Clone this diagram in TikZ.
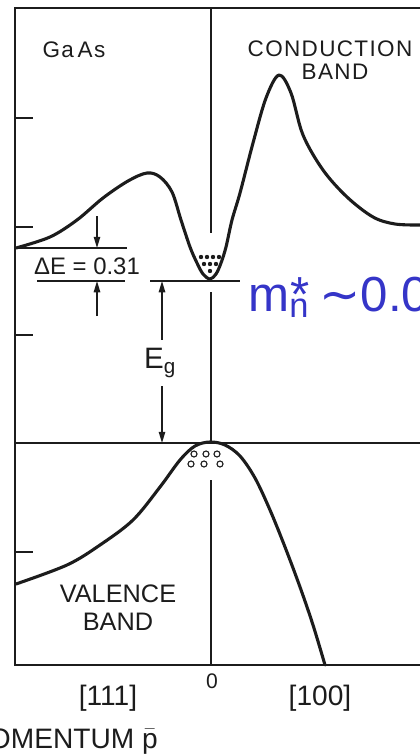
\documentclass[tikz,border=0pt]{standalone}
\usepackage{fontspec}
\setmainfont{Liberation Sans}
\newfontfamily\lettering[LetterSpace=6]{Liberation Sans}
\newfontfamily\symfont{DejaVu Sans}
\usepackage{tikz}
\usetikzlibrary{arrows.meta}
\definecolor{ink}{HTML}{1C1C1C}
\definecolor{massblue}{HTML}{3535C8}
\tikzset{band/.style={ink,line width=2.2pt,line join=round,line cap=round},
  frame/.style={ink,line width=1.3pt},
  dimline/.style={ink,line width=0.9pt},
  dimtip/.style={dimline,-{Triangle[length=8pt,width=4.6pt]}},
  tag/.style={ink,inner sep=0pt,anchor=base}}

\begin{document}
\begin{tikzpicture}[x=0.025cm,y=-0.025cm]
\useasboundingbox (0,0) rectangle (420,755);
\draw[ink,line width=1.8pt] (14,8) -- (420,8);
\draw[frame] (15,8) -- (15,665) -- (420,665);
\draw[frame] (15,443) -- (420,443);
\foreach \y in {118,227,335,552} \draw[frame] (15,\y) -- (33,\y);
\draw[dimline] (211,8) -- (211,233) (211,292) -- (211,443) (211,480) -- (211,665);
\draw[band] plot[smooth,tension=0.55] coordinates {(16,248) (50,237) (77,220) (103,198) (128,181) (147,173) (160,177) (172,192) (181,220) (190,247) (197,263) (203,274) (210,279) (216,274) (221,263) (226,247) (232,220) (240,193) (253,143) (266,98) (279,75) (291,93) (303,135) (323,170) (347,197) (373,217) (395,224) (420,225)};
\draw[band] plot[smooth,tension=0.55] coordinates {(16,584) (67,565) (100,545) (133,520) (160,487) (180,460) (195,446) (210,442) (225,445) (240,456) (255,478) (270,510) (285,547) (300,587) (313,625) (325,665)};
\foreach \x/\y in {201/257,207/257,213/257,219/257,204/264,210/264,216/264,210/271} \fill[ink] (\x,\y) circle (2.2);
\foreach \x/\y in {194/454,206/454,217/454,191/464,204/464,220/464} \draw[ink,line width=0.8pt] (\x,\y) circle (3);
\draw[frame] (15,248) -- (127,248);
\draw[frame] (37,281) -- (125,281);
\draw[frame] (150,281) -- (240,281);
\coordinate (deabove) at (97,216);
\coordinate (deup) at (97,248);
\coordinate (delo) at (97,281);
\coordinate (debelow) at (97,316);
\coordinate (egtop) at (162,281);
\coordinate (egbot) at (162,443);
\draw[dimtip] (deabove) -- (deup);
\draw[dimtip] (debelow) -- (delo);
\node[tag,font=\fontsize{17}{20}\selectfont] (deltae) at (87,274) {ΔE = 0.31};
\node[ink,inner xsep=0pt,inner ysep=6pt,font=\fontsize{21}{24}\selectfont] (eg) at (160,363) {E\textsubscript{g}};
\draw[dimtip] (eg.north -| egtop) -- (egtop);
\draw[dimtip] (eg.south -| egbot) -- (egbot);
\node[tag,font=\lettering\fontsize{16}{19}\selectfont] (gaas) at (74,58) {Ga\,As};
\node[tag,font=\lettering\fontsize{16}{19}\selectfont] (conduction) at (330,57) {CONDUCTION};
\node[tag,font=\lettering\fontsize{16}{19}\selectfont] (cband) at (335,80) {BAND};
\node[tag,font=\fontsize{18}{21}\selectfont] (valence) at (118,602) {VALENCE};
\node[tag,font=\fontsize{18}{21}\selectfont] (vband) at (118,630) {BAND};
\node[tag,font=\fontsize{15}{18}\selectfont] (origin) at (212,688) {0};
\node[tag,font=\fontsize{20}{24}\selectfont] (dir111) at (108,705) {[111]};
\node[tag,font=\fontsize{20}{24}\selectfont] (dir100) at (320,705) {[100]};
\node[tag,anchor=base east,font=\fontsize{20}{24}\selectfont] (momentum) at (158,748) {MOMENTUM $\bar{\mbox{p}}$};
\node[massblue,inner sep=0pt,anchor=base west,font=\fontsize{35}{40}\selectfont] (mass) at (248,311) {m\rlap{\textsubscript{n}}\kern1pt*\kern7pt{\symfont ∼}0.0};
\end{tikzpicture}
\end{document}
